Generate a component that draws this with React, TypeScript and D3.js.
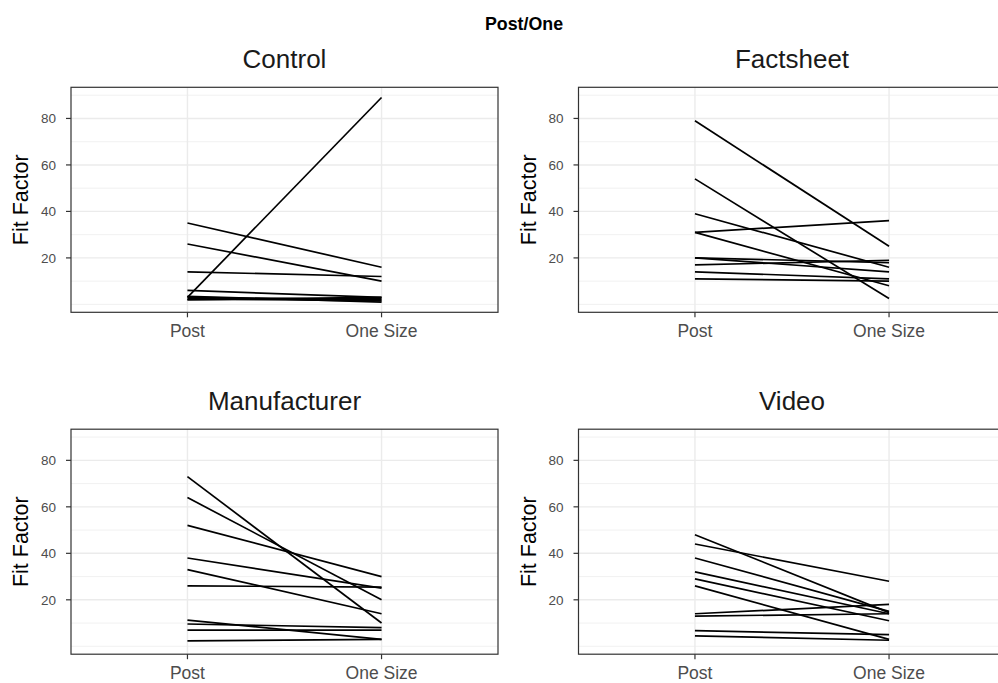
import React from "react";
import * as d3 from "d3";

const categories = ["Post", "One Size"];
const panels = ["Control", "Factsheet", "Manufacturer", "Video"];
const yTicks = [20, 40, 60, 80];

const controlPost = [3, 35, 26, 14, 6, 3, 2.5, 2, 3.5, 2];
const controlOne = [89, 16, 10, 12, 3, 2, 1.5, 3, 1, 2.5];
const factsheetPost = [79, 54, 39, 31, 31, 20, 20, 17, 14, 11];
const factsheetOne = [25, 2.5, 16, 36, 8, 14, 18, 19, 11, 10];
const manufacturerPost = [73, 64, 52, 38, 33, 26, 11.3, 9.6, 7, 2.3];
const manufacturerOne = [10, 20, 30, 25, 14, 25.5, 3, 8, 7, 3];
const videoPost = [48, 44, 38, 32, 29, 26, 14, 13, 6.7, 4.5];
const videoOne = [14.5, 28, 15, 14, 11, 3, 18, 14, 5, 2.6];

const panelData = [
  [controlPost, controlOne],
  [factsheetPost, factsheetOne],
  [manufacturerPost, manufacturerOne],
  [videoPost, videoOne],
];

const W = 998;
const H = 683;
const PW = 427;
const PH = 225;
const lefts = [71, 578.5];
const tops = [87.3, 429.2];
const FONT = "Liberation Sans, Arial, Helvetica, sans-serif";

export default function App() {
  const all = panelData.flatMap((p) => [...p[0], ...p[1]]);
  const mn = d3.min(all) as number;
  const mx = d3.max(all) as number;
  const pad = (mx - mn) * 0.05;
  const y = d3.scaleLinear().domain([mn - pad, mx + pad]).range([PH, 0]);
  const xPos = d3.scaleLinear().domain([0.4, 2.6]).range([0, PW]);
  const x = (c: string) => xPos(categories.indexOf(c) + 1);
  const minor = [0, 10, 30, 50, 70, 90].filter((v) => v >= y.domain()[0] && v <= y.domain()[1]);
  const line = d3
    .line<[string, number]>()
    .x((d) => x(d[0]))
    .y((d) => y(d[1]));

  return (
    <svg width={W} height={H} style={{ position: "absolute", left: 0, top: 0 }} fontFamily={FONT}>
      <rect width={W} height={H} fill="white" />
      <text x={524} y={29.5} textAnchor="middle" fontWeight="bold" fontSize={17.8} fill="black">
        Post/One
      </text>
      {panels.map((name, i) => {
        const L = lefts[i % 2];
        const T = tops[Math.floor(i / 2)];
        const [post, one] = panelData[i];
        return (
          <g key={name} transform={`translate(${L},${T})`}>
            <text x={PW / 2} y={-19} textAnchor="middle" fontSize={26} fill="#1a1a1a">
              {name}
            </text>
            {minor.map((v) => (
              <line key={"m" + v} x1={0} x2={PW} y1={y(v)} y2={y(v)} stroke="#ebebeb" strokeWidth={0.7} />
            ))}
            {yTicks.map((v) => (
              <line key={"g" + v} x1={0} x2={PW} y1={y(v)} y2={y(v)} stroke="#ebebeb" strokeWidth={1.4} />
            ))}
            {categories.map((c) => (
              <line key={"v" + c} x1={x(c)} x2={x(c)} y1={0} y2={PH} stroke="#ebebeb" strokeWidth={1.4} />
            ))}
            {post.map((p, k) => (
              <path
                key={k}
                d={line([
                  [categories[0], p],
                  [categories[1], one[k]],
                ]) as string}
                stroke="black"
                strokeWidth={1.7}
                fill="none"
              />
            ))}
            <rect x={0} y={0} width={PW} height={PH} fill="none" stroke="#333333" strokeWidth={1.2} />
            {yTicks.map((v) => (
              <g key={"t" + v}>
                <line x1={-5} x2={0} y1={y(v)} y2={y(v)} stroke="#333333" strokeWidth={1.2} />
                <text x={-15} y={y(v)} dy="0.35em" textAnchor="end" fontSize={13.5} fill="#4d4d4d">
                  {v}
                </text>
              </g>
            ))}
            {categories.map((c) => (
              <g key={"xt" + c}>
                <line x1={x(c)} x2={x(c)} y1={PH} y2={PH + 5} stroke="#333333" strokeWidth={1.2} />
                <text x={x(c)} y={PH + 25} textAnchor="middle" fontSize={17.5} fill="#4d4d4d">
                  {c}
                </text>
              </g>
            ))}
            <text
              transform={`translate(${-43},${PH / 2}) rotate(-90)`}
              textAnchor="middle"
              fontSize={21.5}
              fill="black"
            >
              Fit Factor
            </text>
          </g>
        );
      })}
    </svg>
  );
}
